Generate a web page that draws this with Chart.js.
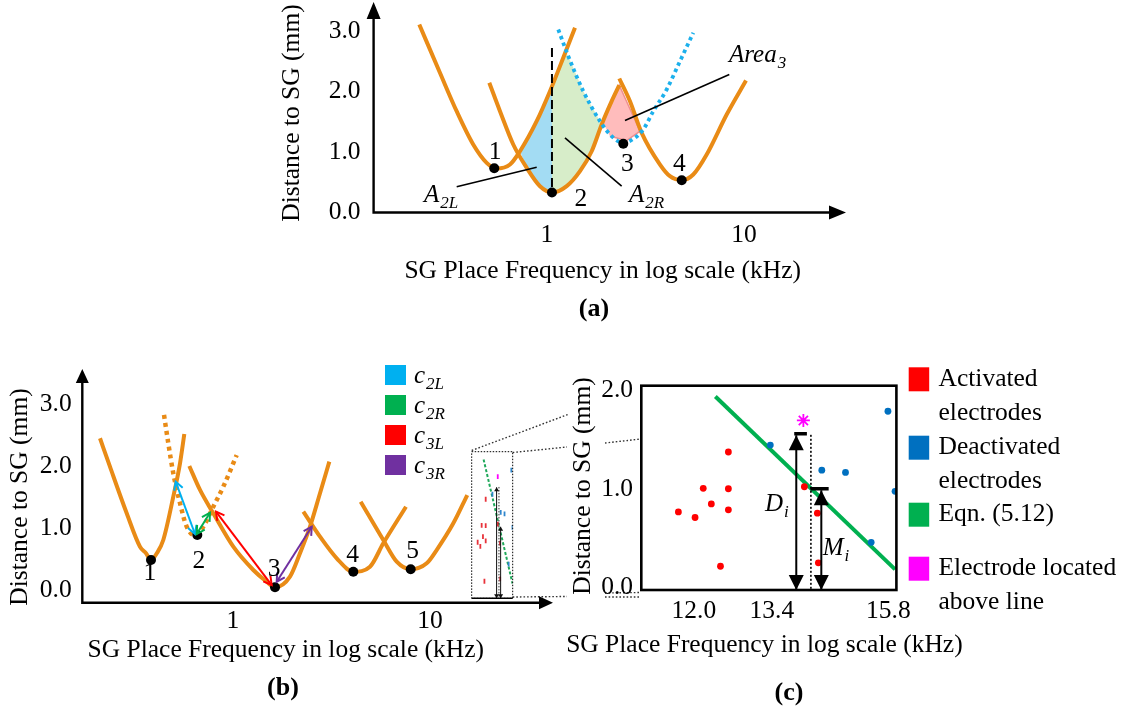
<!DOCTYPE html>
<html>
<head>
<meta charset="utf-8">
<script src="https://cdn.jsdelivr.net/npm/chart.js@4/dist/chart.umd.min.js"></script>
<style>
  html, body { margin: 0; padding: 0; background: #fff; }
  #page { position: relative; width: 1124px; height: 713px; overflow: hidden; }
  #page canvas, #page svg { position: absolute; left: 0; top: 0; }
  .tag { position: absolute; font: bold 26px 'Liberation Serif', 'Times New Roman', serif; transform: translate(-50%, -50%); line-height: 1; }
</style>
</head>
<body>
<div id="page">
  <svg width="1124" height="713">
    <g stroke="#333" stroke-width="1.4" stroke-dasharray="1.6 2" fill="none">
      <line x1="471.7" y1="450.5" x2="568" y2="414.5"/>
      <line x1="512.7" y1="452.5" x2="567" y2="447"/>
      <line x1="605" y1="443" x2="641" y2="439"/>
      <line x1="512.7" y1="597" x2="567" y2="596.5"/>
      <line x1="605" y1="593" x2="641" y2="592.5"/>
      <line x1="605" y1="597" x2="641" y2="597"/>
    </g>
  </svg>
  <canvas id="chartA" width="1124" height="713"></canvas>
  <canvas id="chartB" width="1124" height="713"></canvas>
  <canvas id="chartC" width="1124" height="713"></canvas>
  <canvas id="chartInset" width="1124" height="713"></canvas>
  <div class="tag" style="left:594px; top:308px">(a)</div>
  <div class="tag" style="left:283px; top:687px">(b)</div>
  <div class="tag" style="left:789px; top:692px">(c)</div>
</div>
<script>
// ---------- shared axis ticks ----------
const freqTicks = [1, 10];
const freqTickLabels = ['1', '10'];
const distTicks = [0, 1, 2, 3];
const distTickLabels = ['0.0', '1.0', '2.0', '3.0'];

// ---------- panel (a): [frequency kHz, distance mm] ----------
const aCurve1 = [[0.2248, 3.107], [0.2862, 2.309], [0.3479, 1.674], [0.4223, 1.124], [0.4942, 0.821], [0.5555, 0.727],
  [0.6490, 0.793], [0.7294, 1.013], [0.8865, 1.509], [1.0356, 2.005], [1.2097, 2.557], [1.3875, 3.053]];
const aCurve2 = [[0.5095, 2.144], [0.5774, 1.674], [0.6743, 1.124], [0.7888, 0.739], [0.9214, 0.435], [1.0664, 0.331],
  [1.2589, 0.435], [1.4711, 0.683], [1.6865, 1.013], [1.8955, 1.455], [2.1304, 1.840], [2.3281, 2.104]];
const aCurve4 = [[2.328, 2.215], [2.638, 1.840], [3.025, 1.317], [3.747, 0.793], [4.210, 0.600], [4.829, 0.534],
  [5.528, 0.628], [6.468, 0.959], [8.171, 1.620], [10.24, 2.182]];
const aCurve3 = [[1.141, 3.025], [1.283, 2.583], [1.529, 2.005], [1.858, 1.509], [2.130, 1.261], [2.440, 1.152],
  [2.797, 1.235], [3.083, 1.372], [3.464, 1.674], [4.052, 2.033], [4.733, 2.501], [5.528, 2.970]];
const aMarkers = [[0.540, 0.732], [1.06, 0.331], [2.44, 1.136], [4.83, 0.534]];
const aMarkerLabels = ['1', '2', '3', '4'];
const aSplit = [[1.06, 2.72], [1.06, 0.331]];
const aAreaL = [[0.7294, 1.013], [0.8865, 1.509], [1.06, 2.09], [1.06, 0.331], [0.9214, 0.435], [0.7888, 0.739]];
const aAreaR = [[1.06, 2.09], [1.2097, 2.557], [1.25, 2.64], [1.283, 2.583], [1.529, 2.005], [1.858, 1.509], [1.88, 1.48],
  [1.6865, 1.013], [1.4711, 0.683], [1.2589, 0.435], [1.06, 0.331]];
const aArea3 = [[1.917, 1.499], [2.328, 2.104], [2.966, 1.344], [2.539, 1.190], [2.088, 1.261]];
const aLeaderL = [[0.348, 0.425], [0.8865, 0.749]];
const aLeaderR = [[1.234, 1.235], [2.394, 0.435]];
const aLeader3 = [[2.489, 1.521], [8.423, 2.281]];

// ---------- panel (b) ----------
const bCurve1 = [[0.2113, 2.447], [0.2374, 1.990], [0.2887, 1.241], [0.3372, 0.704], [0.3618, 0.598], [0.3835, 0.490],
  [0.4113, 0.603], [0.4427, 0.812], [0.4977, 1.508], [0.5383, 2.045], [0.5661, 2.516]];
const bCurve2 = [[0.4465, 2.822], [0.4694, 2.367], [0.4977, 1.884], [0.5383, 1.402], [0.5821, 1.026], [0.645, 0.885],
  [0.7067, 1.026], [0.7943, 1.347], [0.8929, 1.669], [1.0442, 2.178]];
const bCurve3 = [[0.600, 2.002], [0.680, 1.616], [0.7943, 1.241], [1.0035, 0.704], [1.2677, 0.330], [1.4827, 0.141],
  [1.634, 0.051], [1.9465, 0.222], [2.188, 0.598], [2.4598, 1.026], [2.7645, 1.563], [3.083, 2.071]];
const bCurve4 = [[2.275, 1.267], [2.765, 0.865], [3.361, 0.518], [4.080, 0.302], [4.960, 0.383], [5.794, 0.759], [7.553, 1.347]];
const bCurve5 = [[4.448, 1.428], [5.794, 0.812], [6.776, 0.463], [7.980, 0.341], [9.621, 0.437], [10.81, 0.651],
  [13.13, 1.080], [15.46, 1.535]];
const bMarkers = [[0.3835, 0.490], [0.6589, 0.892], [1.634, 0.051], [4.080, 0.302], [7.980, 0.341]];
const bMarkerLabels = ['1', '2', '3', '4', '5'];
const bArrowNames = ['c2L', 'c2R', 'c3L', 'c3R'];
const bArrowC2L = [[0.5117, 1.749], [0.6413, 0.908]];
const bArrowC2R = [[0.6541, 0.908], [0.7643, 1.251]];
const bArrowC3L = [[0.8199, 1.267], [1.572, 0.088]];
const bArrowC3R = [[1.6664, 0.141], [2.509, 1.026]];

// ---------- panel (c) ----------
const cTicks = [12.0, 13.4, 15.8];
const cTickLabels = ['12.0', '13.4', '15.8'];
const cDistTicks = [0, 1, 2];
const cDistTickLabels = ['0.0', '1.0', '2.0'];
const cActivated = [[11.74, 0.765], [12.02, 0.708], [12.16, 1.005], [12.30, 0.846], [12.60, 1.375], [12.60, 1.001],
  [12.60, 0.786], [12.46, 0.212], [14.03, 1.021], [14.29, 0.752], [14.31, 0.247]];
const cDeactivated = [[13.37, 1.446], [14.38, 1.190], [14.87, 1.167], [15.42, 0.455], [15.79, 1.790], [15.95, 0.975]];
const cEqnLine = [[12.37, 1.94], [15.95, 0.18]];
const cAbove = [[14.01, 1.696]];
const cArrowD = [[13.87, -0.03], [13.87, 1.545]];
const cArrowM = [[14.37, -0.03], [14.37, 0.985]];
const cCapD = [[13.83, 1.561], [14.08, 1.561]];
const cCapM = [[14.15, 1.001], [14.52, 1.001]];
const cGuide = [[14.16, 1.55], [14.16, -0.03]];
const cLegendLabels = [['Activated', 'electrodes'], ['Deactivated', 'electrodes'], ['Eqn. (5.12)'], ['Electrode located', 'above line']];

// ---------- helpers ----------
const FONT = "'Liberation Serif', 'Times New Roman', serif";
const ORANGE = '#e98b16';
const RED = '#ff0000', BLUE = '#0070c0', GREEN = '#00b050', MAGENTA = '#ff00ff';
const X_TITLE = 'SG Place Frequency in log scale (kHz)';
const Y_TITLE = 'Distance to SG (mm)';

Chart.defaults.font.family = FONT;
Chart.defaults.font.size = 25.5;
Chart.defaults.color = '#000';

const toXY = arr => arr.map(([x, y]) => ({x, y}));

function line(data, color, width, extra) {
  return Object.assign({data: toXY(data), borderColor: color, borderWidth: width, pointRadius: 0, fill: false}, extra);
}
function curve(data, extra) {
  return line(data, ORANGE, 4, Object.assign({cubicInterpolationMode: 'monotone', order: 3}, extra));
}
function dots(data, color, radius, extra) {
  return Object.assign({data: toXY(data), showLine: false, pointRadius: radius, pointBackgroundColor: color,
    pointBorderWidth: 0, order: 0}, extra);
}

function logX(min, max, ticks, labels, height, pad) {
  return {
    type: 'logarithmic', min, max, bounds: 'data',
    grid: {display: false, drawTicks: false}, border: {display: false},
    ticks: {padding: pad, autoSkip: false, minRotation: 0, maxRotation: 0, callback: (v, i) => labels[i]},
    afterBuildTicks: s => { s.ticks = ticks.map(v => ({value: v})); },
    afterFit: s => { s.height = height; s.paddingLeft = 0; s.paddingRight = 0; }
  };
}
function linY(min, max, ticks, labels, width, pad) {
  return {
    type: 'linear', min, max, bounds: 'data',
    grid: {display: false, drawTicks: false}, border: {display: false},
    ticks: {padding: pad, autoSkip: false, callback: (v, i) => labels[i]},
    afterBuildTicks: s => { s.ticks = ticks.map(v => ({value: v})); },
    afterFit: s => { s.width = width; s.paddingTop = 0; s.paddingBottom = 0; }
  };
}
function options(padding, scales) {
  return {
    responsive: false, animation: false, events: [],
    layout: {autoPadding: false, padding},
    plugins: {legend: {display: false}, tooltip: {enabled: false}},
    scales
  };
}

// axis titles at their own centres, drawn at full width (no squeezing)
function axisTitles(xc, yc) {
  return {
    id: 'axisTitles',
    afterDraw(chart) {
      const ctx = chart.ctx;
      ctx.save();
      ctx.font = `25.5px ${FONT}`;
      ctx.fillStyle = '#000';
      ctx.textAlign = 'center';
      ctx.textBaseline = 'middle';
      ctx.fillText(X_TITLE, xc[0], xc[1]);
      ctx.translate(yc[0], yc[1]);
      ctx.rotate(-Math.PI / 2);
      ctx.fillText(Y_TITLE, 0, 0);
      ctx.restore();
    }
  };
}

function mathText(ctx, main, sub, x, y, size) {
  ctx.save();
  ctx.fillStyle = '#000';
  ctx.textAlign = 'left';
  ctx.textBaseline = 'alphabetic';
  ctx.font = `italic ${size}px ${FONT}`;
  ctx.fillText(main, x, y);
  const w = ctx.measureText(main).width;
  ctx.font = `italic ${Math.round(size * 0.68)}px ${FONT}`;
  ctx.fillText(sub, x + w + 1, y + size * 0.24);
  ctx.restore();
}

// axis lines with arrow tips (panels a, b)
function axisArrows(tipTop, tipRight, head, half) {
  return {
    id: 'axisArrows',
    afterDraw(chart) {
      const {ctx, chartArea: {left, bottom}} = chart;
      ctx.save();
      ctx.strokeStyle = ctx.fillStyle = '#000';
      ctx.lineWidth = 2.4;
      ctx.beginPath();
      ctx.moveTo(left, tipTop + head);
      ctx.lineTo(left, bottom);
      ctx.lineTo(tipRight - head, bottom);
      ctx.stroke();
      ctx.beginPath();
      ctx.moveTo(left, tipTop);
      ctx.lineTo(left - half, tipTop + head);
      ctx.lineTo(left + half, tipTop + head);
      ctx.closePath();
      ctx.moveTo(tipRight, bottom);
      ctx.lineTo(tipRight - head, bottom - half);
      ctx.lineTo(tipRight - head, bottom + half);
      ctx.closePath();
      ctx.fill();
      ctx.restore();
    }
  };
}

function drawHead(ctx, from, to, ds) {
  const ang = Math.atan2(to.y - from.y, to.x - from.x);
  ctx.save();
  ctx.translate(to.x, to.y);
  ctx.rotate(ang);
  ctx.beginPath();
  ctx.moveTo(-ds.headLength, -ds.headHalf);
  ctx.lineTo(0, 0);
  ctx.lineTo(-ds.headLength, ds.headHalf);
  if (ds.headFill) {
    ctx.closePath();
    ctx.fillStyle = ds.borderColor;
    ctx.fill();
  } else {
    ctx.strokeStyle = ds.borderColor;
    ctx.lineWidth = ds.borderWidth;
    ctx.stroke();
  }
  ctx.restore();
}
const arrowHeads = {
  id: 'arrowHeads',
  afterDatasetsDraw(chart) {
    chart.data.datasets.forEach((ds, i) => {
      if (!ds.heads) return;
      const pts = chart.getDatasetMeta(i).data;
      const a = pts[0], b = pts[pts.length - 1];
      drawHead(chart.ctx, a, b, ds);
      drawHead(chart.ctx, b, a, ds);
    });
  }
};

// text labels placed in data coordinates
function notes(items) {
  return {
    id: 'notes',
    afterDatasetsDraw(chart) {
      const {ctx, scales: {x, y}} = chart;
      items.forEach(it => {
        const px = x.getPixelForValue(it.x), py = y.getPixelForValue(it.y);
        if (it.sub) {
          mathText(ctx, it.text, it.sub, px, py, 25);
        } else {
          ctx.save();
          ctx.font = `25.5px ${FONT}`;
          ctx.fillStyle = '#000';
          ctx.textAlign = 'center';
          ctx.textBaseline = 'middle';
          ctx.fillText(it.text, px, py);
          ctx.restore();
        }
      });
    }
  };
}

// ---------- chart (a) ----------
new Chart(document.getElementById('chartA'), {
  type: 'line',
  data: {datasets: [
    dots(aMarkers, '#000', 5),
    line(aSplit, '#000', 2, {borderDash: [9, 4], order: 1}),
    line(aLeaderL, '#000', 1.6, {order: 1}),
    line(aLeaderR, '#000', 1.6, {order: 1}),
    line(aLeader3, '#000', 1.6, {order: 1}),
    curve(aCurve3, {borderColor: '#1cb0ec', borderDash: [3.5, 3.5], borderWidth: 3.8, order: 2}),
    curve(aCurve1), curve(aCurve2), curve(aCurve4),
    line(aArea3, '#ef8f8f', 1.5, {fill: 'shape', backgroundColor: '#ffbcbc', order: 4}),
    line(aAreaR, 'rgba(0,0,0,0)', 0, {fill: 'shape', backgroundColor: '#d7edc9', order: 5}),
    line(aAreaL, 'rgba(0,0,0,0)', 0, {fill: 'shape', backgroundColor: '#a3dcf3', order: 5})
  ]},
  options: options({left: 277, right: 292.2, top: 13.5, bottom: 426}, {
    x: logX(0.1318, 27.91, freqTicks, freqTickLabels, 74.5, 7),
    y: linY(0, 3.289, distTicks, distTickLabels, 96.6, 13)
  }),
  plugins: [axisArrows(2, 846, 17, 7), axisTitles([602.7, 271.7], [292, 113]), notes([
    {x: 0.545, y: 0.997, text: aMarkerLabels[0]},
    {x: 1.488, y: 0.22, text: aMarkerLabels[1]},
    {x: 2.556, y: 0.798, text: aMarkerLabels[2]},
    {x: 4.695, y: 0.798, text: aMarkerLabels[3]},
    {x: 0.2374, y: 0.17, text: 'A', sub: '2L'},
    {x: 2.608, y: 0.17, text: 'A', sub: '2R'},
    {x: 8.394, y: 2.484, text: 'Area', sub: '3'}
  ])]
});

// ---------- chart (b) ----------
const bArrowColors = ['#00b0f0', '#00b050', '#ff0000', '#7030a0'];
const bArrows = [bArrowC2L, bArrowC2R, bArrowC3L, bArrowC3R].map((d, k) =>
  line(d, bArrowColors[k], 2, {label: bArrowNames[k], heads: 'both', headLength: 8, headHalf: 4.5, order: 0}));

new Chart(document.getElementById('chartB'), {
  type: 'line',
  data: {datasets: [
    ...bArrows,
    dots(bMarkers, '#000', 5, {order: 1}),
    curve(bCurve2, {borderDash: [4, 4], borderWidth: 4.5, order: 2}),
    curve(bCurve1), curve(bCurve3), curve(bCurve4), curve(bCurve5)
  ]},
  options: options({left: 5.4, right: 634.7, top: 392, bottom: 47.7}, {
    x: logX(0.1718, 20.0, freqTicks, freqTickLabels, 62.6, 3.7),
    y: linY(-0.196, 3.191, distTicks, distTickLabels, 76.9, 10.6)
  }),
  plugins: [axisArrows(369, 553, 14, 6.5), axisTitles([285.8, 650], [20.7, 497]), arrowHeads, notes([
    {x: 0.379, y: 0.281, text: bMarkerLabels[0]},
    {x: 0.672, y: 0.474, text: bMarkerLabels[1]},
    {x: 1.615, y: 0.346, text: bMarkerLabels[2]},
    {x: 4.052, y: 0.571, text: bMarkerLabels[3]},
    {x: 8.171, y: 0.624, text: bMarkerLabels[4]}
  ]), {
    id: 'bLegend',
    afterDraw(chart) {
      const ctx = chart.ctx;
      chart.data.datasets.filter(d => d.heads).forEach((d, k) => {
        const top = 365 + 30 * k;
        ctx.fillStyle = d.borderColor;
        ctx.fillRect(385, top, 21, 20);
        mathText(ctx, d.label.slice(0, 1), d.label.slice(1), 414, top + 18, 25);
      });
    }
  }]
});

// ---------- chart (c) ----------
const frame = (width, dash, solidBottom) => ({
  id: 'frame',
  afterDraw(chart) {
    const {ctx, chartArea: a} = chart;
    ctx.save();
    ctx.strokeStyle = '#000';
    ctx.lineWidth = width;
    ctx.setLineDash(dash);
    ctx.strokeRect(a.left, a.top, a.right - a.left, a.bottom - a.top);
    if (solidBottom) {
      ctx.setLineDash([]);
      ctx.lineWidth = 1.6;
      ctx.beginPath();
      ctx.moveTo(a.left, a.bottom);
      ctx.lineTo(a.right, a.bottom);
      ctx.stroke();
    }
    ctx.restore();
  }
});

new Chart(document.getElementById('chartC'), {
  type: 'line',
  data: {datasets: [
    dots(cAbove, MAGENTA, 6.5, {pointStyle: 'star', pointBorderColor: MAGENTA, pointBorderWidth: 1.8}),
    line(cArrowD, '#000', 2, {heads: 'both', headLength: 15, headHalf: 7.5, headFill: true, order: 0}),
    line(cArrowM, '#000', 2, {heads: 'both', headLength: 15, headHalf: 7.5, headFill: true, order: 0}),
    line(cCapD, '#000', 3.6, {order: 0}),
    line(cCapM, '#000', 3.6, {order: 0}),
    line(cGuide, '#000', 1.6, {borderDash: [2, 2], order: 1}),
    dots(cActivated, RED, 3.4, {order: 2}),
    dots(cDeactivated, BLUE, 3.4, {order: 2}),
    line(cEqnLine, GREEN, 4, {order: 3})
  ]},
  options: options({left: 567.5, right: 227.6, top: 385.7, bottom: 52.7}, {
    x: logX(11.14, 15.98, cTicks, cTickLabels, 70.3, 6.4),
    y: linY(-0.03, 2.05, cDistTicks, cDistTickLabels, 73.8, 8.3)
  }),
  plugins: [arrowHeads, frame(2.6, []), axisTitles([764.4, 645], [582.8, 486]), notes([
    {x: 13.27, y: 0.776, text: 'D', sub: 'i'},
    {x: 14.40, y: 0.331, text: 'M', sub: 'i'}
  ]), {
    id: 'cLegend',
    afterDraw(chart) {
      const ctx = chart.ctx;
      const colors = [RED, BLUE, GREEN, MAGENTA];
      const tops = [367.3, 435.7, 502.7, 556.7];
      ctx.save();
      ctx.font = `25.5px ${FONT}`;
      ctx.textAlign = 'left';
      ctx.textBaseline = 'middle';
      cLegendLabels.forEach((lines, k) => {
        ctx.fillStyle = colors[k];
        ctx.fillRect(908.7, tops[k], 20.5, 24);
        ctx.fillStyle = '#000';
        lines.forEach((t, j) => ctx.fillText(t, 938.5, tops[k] + 12 + j * 34));
      });
      ctx.restore();
    }
  }]
});

// ---------- thumbnail of (c) inside (b) ----------
const tick = (data, color) => dots(data, color, 2.4, {pointStyle: 'line', pointRotation: 90,
  pointBorderColor: color, pointBorderWidth: 1.8, order: 1});
new Chart(document.getElementById('chartInset'), {
  type: 'line',
  data: {datasets: [
    tick(cAbove, MAGENTA),
    line(cArrowD, '#111', 1, {heads: 'both', headLength: 4, headHalf: 2.5, headFill: true, order: 0}),
    line(cArrowM, '#111', 1, {heads: 'both', headLength: 4, headHalf: 2.5, headFill: true, order: 0}),
    line(cGuide, '#333', 1, {borderDash: [1.5, 1.5], order: 1}),
    tick(cActivated, '#e8323a'),
    tick(cDeactivated, '#2f86cc'),
    line(cEqnLine, '#1fa85a', 2, {borderDash: [3, 2], order: 2})
  ]},
  options: options({left: 471.7, right: 611.3, top: 451.7, bottom: 114.7}, {
    x: {type: 'logarithmic', min: 11.14, max: 15.98, display: false},
    y: {type: 'linear', min: -0.03, max: 2.05, display: false}
  }),
  plugins: [arrowHeads, frame(1, [1.5, 1.5], true)]
});
</script>
</body>
</html>
